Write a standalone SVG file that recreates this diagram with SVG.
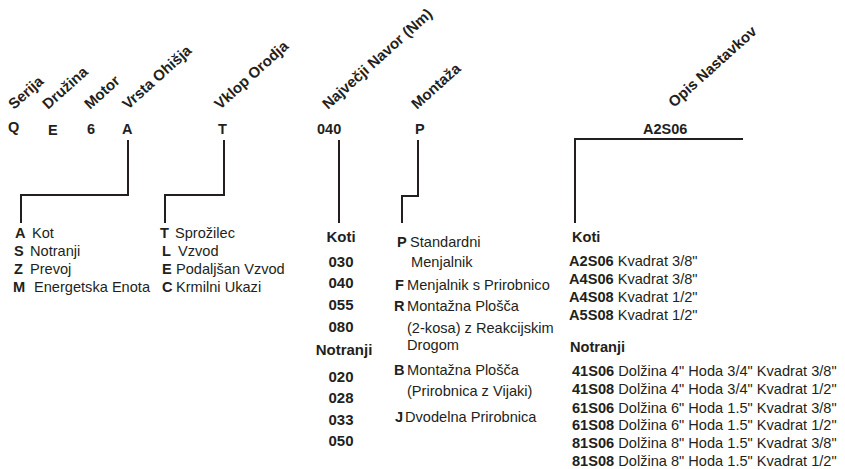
<svg xmlns="http://www.w3.org/2000/svg" width="845" height="469" viewBox="0 0 845 469">
<style>
text{font-family:"Liberation Sans",Arial,sans-serif;fill:#231f20;font-size:14.6px}
.b{font-weight:bold}
.h{font-weight:bold;font-size:15px}
.c{font-weight:bold;font-size:14.5px}
.n{font-weight:bold;font-size:15px}
.m{text-anchor:middle}
.ln{fill:none;stroke:#231f20;stroke-width:2}
</style>
<rect width="845" height="469" fill="#fff"/>
<g id="headers">
<text class="h" transform="translate(14,110) rotate(-42)">Serija</text>
<text class="h" transform="translate(48,110) rotate(-42)">Družina</text>
<text class="h" transform="translate(90,110) rotate(-42)">Motor</text>
<text class="h" transform="translate(128,110) rotate(-42)">Vrsta Ohišja</text>
<text class="h" transform="translate(220,110) rotate(-42)">Vklop Orodja</text>
<text class="h" transform="translate(328,110) rotate(-42)">Največji Navor (Nm)</text>
<text class="h" transform="translate(417,110) rotate(-42)">Montaža</text>
<text class="h" transform="translate(674,108) rotate(-42)">Opis Nastavkov</text>
</g>
<g id="code">
<text class="c" x="8" y="132">Q</text>
<text class="c" x="48" y="135">E</text>
<text class="c" x="87" y="134">6</text>
<text class="c" x="122" y="134">A</text>
<text class="c" x="218" y="134">T</text>
<text class="c" x="317" y="134">040</text>
<text class="c" x="415" y="134">P</text>
<text class="c" x="643" y="134">A2S06</text>
</g>
<g id="connectors">
<path class="ln" d="M128,140 V195 H21 V223"/>
<path class="ln" d="M224,140 V195 H165 V223"/>
<path class="ln" d="M339,140 V223"/>
<path class="ln" d="M418,140 V196 H402 V223"/>
<path class="ln" d="M743,139 H575 V223"/>
</g>
<g id="housing">
<text x="15" y="238"><tspan class="b">A</tspan><tspan x="32">Kot</tspan></text>
<text x="14" y="256"><tspan class="b">S</tspan><tspan x="30">Notranji</tspan></text>
<text x="14" y="274"><tspan class="b">Z</tspan><tspan x="30">Prevoj</tspan></text>
<text x="13" y="292"><tspan class="b">M</tspan><tspan x="34">Energetska Enota</tspan></text>
</g>
<g id="tool-switch">
<text x="160" y="238"><tspan class="b">T</tspan><tspan x="175">Sprožilec</tspan></text>
<text x="162" y="256"><tspan class="b">L</tspan><tspan x="178">Vzvod</tspan></text>
<text x="162" y="274"><tspan class="b">E</tspan><tspan x="176">Podaljšan Vzvod</tspan></text>
<text x="162" y="292"><tspan class="b">C</tspan><tspan x="176">Krmilni Ukazi</tspan></text>
</g>
<g id="torque">
<text class="n m" x="341" y="242">Koti</text>
<text class="n m" x="341" y="267">030</text>
<text class="n m" x="341" y="288">040</text>
<text class="n m" x="341" y="310">055</text>
<text class="n m" x="341" y="332">080</text>
<text class="n m" x="344" y="355">Notranji</text>
<text class="n m" x="341" y="382">020</text>
<text class="n m" x="341" y="403">028</text>
<text class="n m" x="341" y="425">033</text>
<text class="n m" x="341" y="446">050</text>
</g>
<g id="mounting">
<text x="397" y="247"><tspan class="b">P</tspan><tspan x="410">Standardni</tspan></text>
<text x="411" y="267">Menjalnik</text>
<text x="395" y="290"><tspan class="b">F</tspan><tspan x="407">Menjalnik s Prirobnico</tspan></text>
<text x="394" y="311"><tspan class="b">R</tspan><tspan x="407">Montažna Plošča</tspan></text>
<text x="407" y="333">(2-kosa) z Reakcijskim</text>
<text x="407" y="350">Drogom</text>
<text x="394" y="375"><tspan class="b">B</tspan><tspan x="407">Montažna Plošča</tspan></text>
<text x="407" y="396">(Prirobnica z Vijaki)</text>
<text x="395" y="422"><tspan class="b">J</tspan><tspan x="405">Dvodelna Prirobnica</tspan></text>
</g>
<g id="attachments">
<text class="b" x="572" y="242">Koti</text>
<text x="569" y="266"><tspan class="b">A2S06</tspan> Kvadrat 3/8"</text>
<text x="569" y="284"><tspan class="b">A4S06</tspan> Kvadrat 3/8"</text>
<text x="569" y="302"><tspan class="b">A4S08</tspan> Kvadrat 1/2"</text>
<text x="569" y="320"><tspan class="b">A5S08</tspan> Kvadrat 1/2"</text>
<text class="b" x="570" y="352">Notranji</text>
<text x="572" y="376"><tspan class="b">41S06</tspan> Dolžina 4" Hoda 3/4" Kvadrat 3/8"</text>
<text x="572" y="394"><tspan class="b">41S08</tspan> Dolžina 4" Hoda 3/4" Kvadrat 1/2"</text>
<text x="572" y="413"><tspan class="b">61S06</tspan> Dolžina 6" Hoda 1.5" Kvadrat 3/8"</text>
<text x="572" y="430"><tspan class="b">61S08</tspan> Dolžina 6" Hoda 1.5" Kvadrat 1/2"</text>
<text x="572" y="448"><tspan class="b">81S06</tspan> Dolžina 8" Hoda 1.5" Kvadrat 3/8"</text>
<text x="572" y="466"><tspan class="b">81S08</tspan> Dolžina 8" Hoda 1.5" Kvadrat 1/2"</text>
</g>
</svg>
